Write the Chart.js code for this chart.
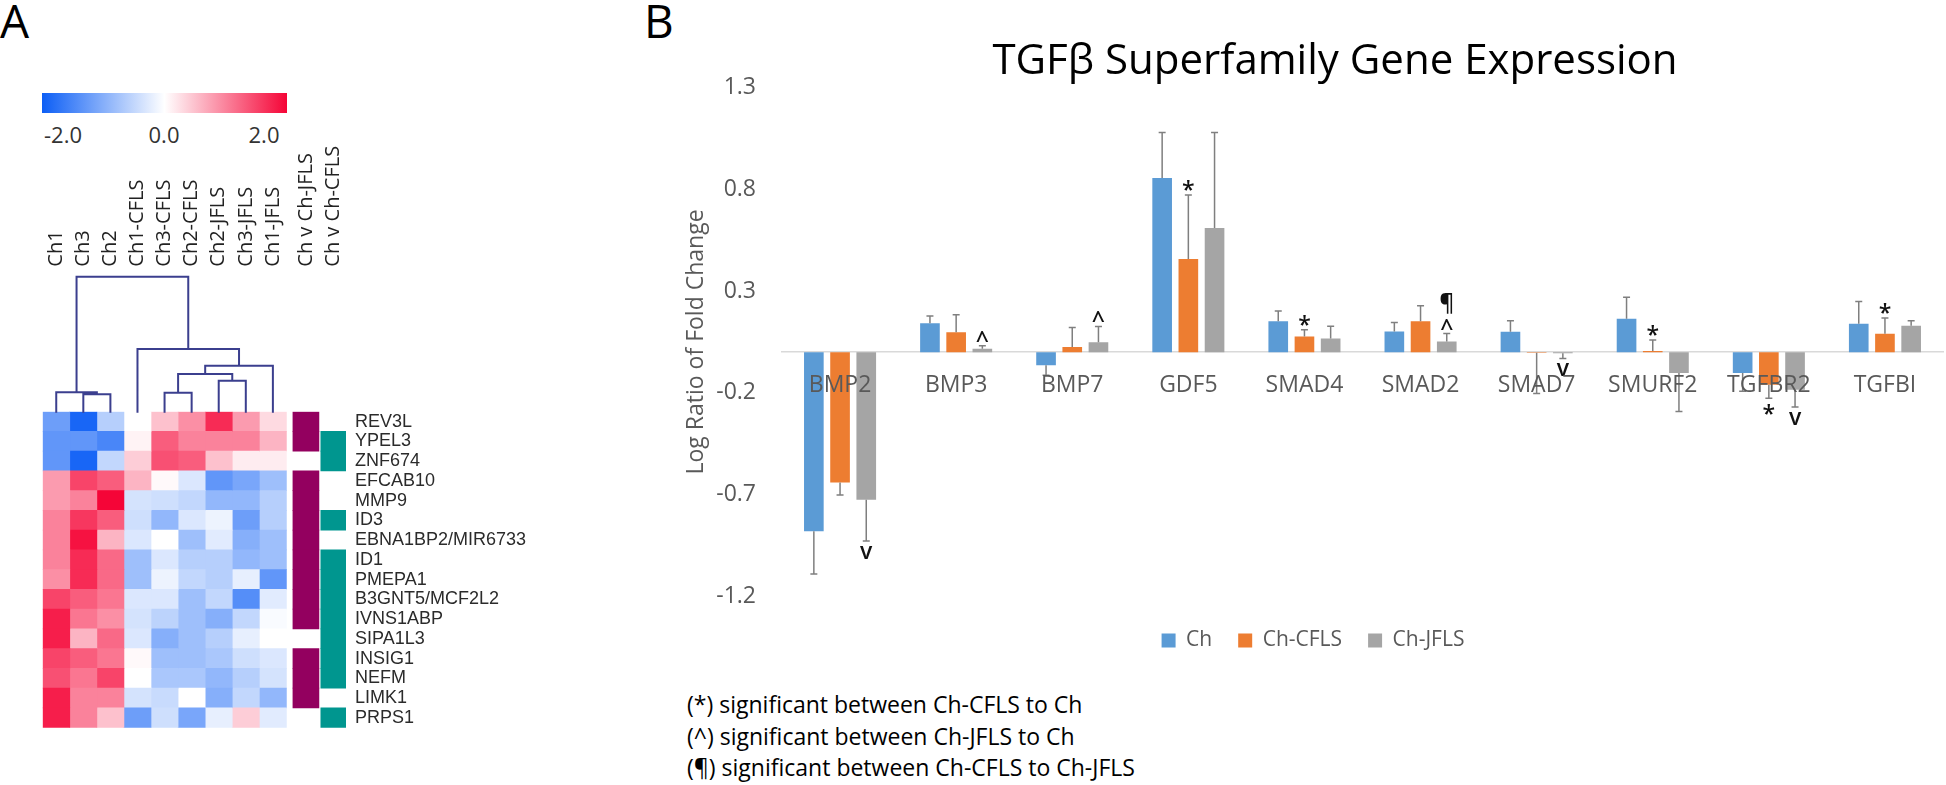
<!DOCTYPE html>
<html><head><meta charset="utf-8">
<script src="https://cdn.jsdelivr.net/npm/chart.js@4.4.1/dist/chart.umd.min.js"></script>
<style>
html,body{margin:0;padding:0;width:1946px;height:785px;overflow:hidden;background:#fff;}
body{position:relative;font-family:'Open Sans',sans-serif;}
.abs{position:absolute;white-space:nowrap;}
.plbl{font-size:46px;line-height:46px;color:#000;}
#cbar{left:42px;top:93px;width:245px;height:20px;background:linear-gradient(to right,rgb(12,94,245),#fff 50%,rgb(245,5,55));}
.cbl{top:123px;font-size:22px;line-height:22px;color:#333;transform:translateX(-50%);}
#notes{left:687px;top:689px;font-size:23px;line-height:31.7px;color:#000;}
canvas{position:absolute;}
</style></head><body>
<div class="abs plbl" style="left:0;top:-3px">A</div>
<div class="abs plbl" style="left:644px;top:-3px">B</div>
<div class="abs" id="cbar"></div>
<div id="cbLabels"></div>
<canvas id="heat" width="640" height="785" style="left:0;top:0"></canvas>
<canvas id="dendro" width="640" height="785" style="left:0;top:0"></canvas>
<canvas id="bars" width="1304" height="661" style="left:683px;top:0"></canvas>
<div class="abs" id="notes"></div>
<script>
// ---------------- Panel A data ----------------
const genes = ['REV3L','YPEL3','ZNF674','EFCAB10','MMP9','ID3','EBNA1BP2/MIR6733','ID1','PMEPA1','B3GNT5/MCF2L2','IVNS1ABP','SIPA1L3','INSIG1','NEFM','LIMK1','PRPS1'];
const samples = ['Ch1','Ch3','Ch2','Ch1-CFLS','Ch3-CFLS','Ch2-CFLS','Ch2-JFLS','Ch3-JFLS','Ch1-JFLS'];
const comparisons = ['Ch v Ch-JFLS','Ch v Ch-CFLS'];
const valCh1  = [-1.2,-1.3,-1.3, 0.8, 0.8, 1.0, 1.0, 1.0, 0.9, 1.5, 1.8, 1.8, 1.5, 1.4, 1.8, 1.8];
const valCh3  = [-1.9,-1.3,-1.9, 1.5, 1.0, 1.6, 1.9, 1.7, 1.7, 1.3, 1.1, 0.6, 1.3, 1.1, 1.0, 1.0];
const valCh2  = [-0.6,-1.5,-0.5, 1.3, 2.0, 1.3, 0.6, 1.2, 1.2, 1.1, 0.9, 1.2, 1.1, 1.5, 1.0, 0.5];
const valCh1C = [ 0.0, 0.1, 0.4, 0.6,-0.35,-0.4,-0.3,-0.8,-0.8,-0.3,-0.35,-0.3, 0.05, 0.0,-0.35,-1.2];
const valCh3C = [ 0.5, 1.3, 1.4, 0.05,-0.4,-0.9, 0.0,-0.3,-0.15,-0.3,-0.55,-1.0,-0.8,-0.7,-0.45,-0.4];
const valCh2C = [ 0.9, 1.0, 1.3,-0.3,-0.5,-0.3,-0.8,-0.6,-0.5,-0.8,-0.8,-0.8,-0.8,-0.7, 0.0,-1.1];
const valCh2J = [ 1.7, 1.0, 0.5,-1.3,-0.9,-0.15,-0.25,-0.6,-0.6,-0.5,-1.0,-0.6,-0.7,-0.9,-1.0,-0.2];
const valCh3J = [ 0.8, 1.0, 0.15,-1.1,-0.9,-1.2,-1.0,-0.9,-0.2,-1.4,-0.5,-0.2,-0.4,-0.6,-0.5, 0.4];
const valCh1J = [ 0.3, 0.6, 0.15,-0.8,-0.6,-0.6,-0.8,-0.8,-1.3,-0.25,-0.05, 0.0,-0.3,-0.35,-0.9,-0.25];
const sigChVsJFLS = [1,1,0,1,1,1,1,1,1,1,1,0,1,1,1,0];
const sigChVsCFLS = [0,1,1,0,0,1,0,1,1,1,1,1,1,1,0,1];
const colorbarTicks = ['-2.0','0.0','2.0'];
// dendrogram merges: [left, right, height]; numbers = column index, 'nK' = K-th merge
const dendroMerges = [
  [1, 2, 17.4],
  [0, 'n0', 19.4],
  [4, 5, 19.0],
  [6, 7, 31.0],
  ['n2', 'n3', 37.7],
  ['n4', 8, 46.0],
  [3, 'n5', 62.7],
  ['n1', 'n6', 135.0]
];

// ---------------- Panel B data ----------------
const categories = ['BMP2','BMP3','BMP7','GDF5','SMAD4','SMAD2','SMAD7','SMURF2','TGFBR2','TGFBI'];
const seriesNames = ['Ch','Ch-CFLS','Ch-JFLS'];
const chMeans   = [-0.88, 0.142,-0.064, 0.855, 0.152, 0.101, 0.100, 0.164,-0.102, 0.139];
const chErr     = [ 0.21, 0.035, 0.05, 0.223, 0.05, 0.045, 0.054, 0.105, 0.09, 0.11];
const cflsMeans = [-0.64, 0.098, 0.025, 0.457, 0.077, 0.152,-0.003, 0.006,-0.16, 0.09];
const cflsErr   = [ 0.062, 0.085, 0.096, 0.315, 0.033, 0.076, 0.2, 0.053, 0.066, 0.077];
const jflsMeans = [-0.725, 0.016, 0.049, 0.609, 0.067, 0.052,-0.005,-0.102,-0.185, 0.129];
const jflsErr   = [ 0.203, 0.015, 0.077, 0.469, 0.06, 0.039, 0.026, 0.19, 0.085, 0.025];
const chMarks   = ['','','','','','','','','',''];
const cflsMarks = ['','','','*','*','','','*','*','*'];
const jflsMarks = ['v','^','^','','','^¶','v','','v',''];
const yTickValues = [-1.2,-0.7,-0.2,0.3,0.8,1.3];
const footnotes = ['(*) significant between Ch-CFLS to Ch','(^) significant between Ch-JFLS to Ch','(¶) significant between Ch-CFLS to Ch-JFLS'];

Chart.defaults.font.family = "'Open Sans', sans-serif";

// ---------- helpers ----------
function heatColor(v){
  const t = Math.max(-1, Math.min(1, v/2));
  const end = t < 0 ? [12,94,245] : [245,5,55];
  const a = Math.abs(t);
  const c = end.map(e => Math.round(255 + (e-255)*a));
  return 'rgb(' + c.join(',') + ')';
}

// colorbar labels
const cbPos = [63,164,264];
document.getElementById('cbLabels').innerHTML = colorbarTicks.map((t,i)=>
  '<div class="abs cbl" style="left:'+cbPos[i]+'px">'+t+'</div>').join('');
document.getElementById('notes').innerHTML = footnotes.map(t=>'<div>'+t+'</div>').join('');

// ---------------- Heatmap ----------------
const heatCols = [valCh1,valCh3,valCh2,valCh1C,valCh3C,valCh2C,valCh2J,valCh3J,valCh1J];
const annotSets = [sigChVsJFLS, sigChVsCFLS];
const annotColors = ['#93005f','#00968f'];
const annotSpans = [[9.24,10.2],[10.27,11.2]];
const colCenters = samples.map((s,i)=>i+0.5).concat(annotSpans.map(s=>(s[0]+s[1])/2));
const colLabels = samples.concat(comparisons);

const heatDatasets = heatCols.map((vals,c)=>({
  data: vals.map(()=>[c,c+1]),
  backgroundColor: vals.map(heatColor),
  borderWidth:0, grouped:false, barPercentage:1, categoryPercentage:1
}));
annotSets.forEach((flags,k)=>heatDatasets.push({
  data: flags.map(f=> f ? annotSpans[k] : null),
  backgroundColor: annotColors[k],
  borderWidth:0, grouped:false, barPercentage:1, categoryPercentage:1
}));

const colLabelPlugin = {
  id:'colLabels',
  afterDraw(chart){
    const {ctx, chartArea, scales:{x}} = chart;
    ctx.save();
    ctx.font = "20px 'Open Sans'";
    ctx.fillStyle = '#222';
    ctx.textAlign = 'left';
    ctx.textBaseline = 'middle';
    colLabels.forEach((t,i)=>{
      ctx.save();
      ctx.translate(x.getPixelForValue(colCenters[i]), chartArea.top - 145);
      ctx.rotate(-Math.PI/2);
      ctx.fillText(t,0,0);
      ctx.restore();
    });
    ctx.restore();
  }
};

new Chart(document.getElementById('heat'), {
  type:'bar',
  data:{ labels: genes, datasets: heatDatasets },
  options:{
    indexAxis:'y', responsive:false, animation:false, events:[],
    layout:{ padding:{ left:42.7, top:411.7, bottom:57.3, right:0 } },
    plugins:{ legend:{display:false}, tooltip:{enabled:false} },
    scales:{
      x:{ type:'linear', min:0, max:11.2, display:false },
      y:{ position:'right', grid:{display:false, drawTicks:false}, border:{display:false},
          ticks:{ padding:9, color:'#2b2b2b', font:{family:"'Liberation Sans', Arial, sans-serif", size:18}, autoSkip:false },
          afterFit: a => { a.width = 294; } }
    }
  },
  plugins:[colLabelPlugin]
});

// ---------------- Dendrogram ----------------
const dendroPts = [];
(function(){
  const nodes = {};
  const pos = id => typeof id === 'number' ? {x:id+0.5, h:0} : nodes[id];
  dendroMerges.forEach(([a,b,h],i)=>{
    const A = pos(a), B = pos(b);
    dendroPts.push({x:A.x,y:A.h},{x:A.x,y:h},{x:B.x,y:h},{x:B.x,y:B.h},{x:B.x,y:null});
    nodes['n'+i] = {x:(A.x+B.x)/2, h:h};
  });
})();
const rootHeight = dendroMerges[dendroMerges.length-1][2];
new Chart(document.getElementById('dendro'), {
  type:'scatter',
  data:{ datasets:[{ data: dendroPts, showLine:true, spanGaps:false, borderColor:'#3b3f8e', borderWidth:2, pointRadius:0, clip:false, borderCapStyle:'square', borderJoinStyle:'miter' }] },
  options:{
    responsive:false, animation:false, events:[],
    layout:{ padding:{ left:42.7, right:294, top:276.7, bottom:373.3 } },
    plugins:{ legend:{display:false}, tooltip:{enabled:false} },
    scales:{ x:{ type:'linear', min:0, max:11.2, display:false }, y:{ type:'linear', min:0, max:rootHeight, display:false } }
  }
});

// ---------------- Bar chart ----------------
const errArrays = [chErr, cflsErr, jflsErr];
const markArrays = [chMarks, cflsMarks, jflsMarks];
const errorBarPlugin = {
  id:'errorBars',
  afterDatasetsDraw(chart){
    const {ctx, scales:{y}} = chart;
    ctx.save();
    chart.data.datasets.forEach((ds,i)=>{
      const meta = chart.getDatasetMeta(i);
      meta.data.forEach((bar,j)=>{
        const v = ds.data[j], e = errArrays[i][j];
        const end = v >= 0 ? v + e : v - e;
        const y0 = y.getPixelForValue(v), y1 = y.getPixelForValue(end);
        ctx.strokeStyle = '#7f7f7f'; ctx.lineWidth = 1.5;
        ctx.beginPath();
        ctx.moveTo(bar.x, y0); ctx.lineTo(bar.x, y1);
        ctx.moveTo(bar.x-3.5, y1); ctx.lineTo(bar.x+3.5, y1);
        ctx.stroke();
        const marks = markArrays[i][j];
        if (marks){
          ctx.font = "600 23px 'Open Sans'";
          ctx.fillStyle = '#111';
          ctx.textAlign = 'center';
          ctx.textBaseline = 'alphabetic';
          [...marks].forEach((ch,k)=>{
            const m = ctx.measureText(ch);
            const c = v >= 0 ? y1 - 9.5 - k*21 : y1 + 11.5 + k*21;
            const base = c + (m.actualBoundingBoxAscent - m.actualBoundingBoxDescent)/2;
            ctx.fillText(ch, bar.x, base);
          });
        }
      });
    });
    ctx.restore();
  }
};
const titleShift = { id:'titleShift', afterLayout(chart){ if (chart.titleBlock){ chart.titleBlock.right += 44; } } };

new Chart(document.getElementById('bars'), {
  type:'bar',
  data:{ labels: categories, datasets:[
    { label: seriesNames[0], data: chMeans, backgroundColor:'#5B9BD5' },
    { label: seriesNames[1], data: cflsMeans, backgroundColor:'#ED7D31' },
    { label: seriesNames[2], data: jflsMeans, backgroundColor:'#A5A5A5' }
  ]},
  options:{
    responsive:false, animation:false, events:[],
    datasets:{ bar:{ categoryPercentage:0.677, barPercentage:0.75 } },
    layout:{ padding:{ left:0, right:44, top:0, bottom:0 } },
    plugins:{
      title:{ display:true, text:'TGFβ Superfamily Gene Expression', color:'#000', font:{size:42, weight:'normal'}, padding:{top:37, bottom:0} },
      legend:{ position:'bottom',
        labels:{ boxWidth:14, boxHeight:14, padding:26, color:'#595959', font:{size:21} },
        title:{ display:true, text:'', padding:{top:6.3, bottom:0}, font:{size:1} } },
      tooltip:{enabled:false}
    },
    scales:{
      x:{ position:{y:0}, grid:{display:false, drawTicks:false},
          border:{display:true, color:'#d9d9d9', width:1.5, z:-1},
          ticks:{ z:1, padding:20, color:'#595959', font:{size:23} } },
      y:{ min:-1.2, max:1.3,
          afterBuildTicks: a => { a.ticks = yTickValues.map(v=>({value:v})); },
          afterFit: a => { a.width = 99; },
          grid:{display:false, drawTicks:false}, border:{display:false},
          ticks:{ padding:26, color:'#595959', font:{size:23}, callback: v => Number(v).toFixed(1) },
          title:{ display:true, text:'Log Ratio of Fold Change', color:'#595959', font:{size:23}, padding:0 } }
    }
  },
  plugins:[errorBarPlugin, titleShift]
});
</script>
</body></html>
